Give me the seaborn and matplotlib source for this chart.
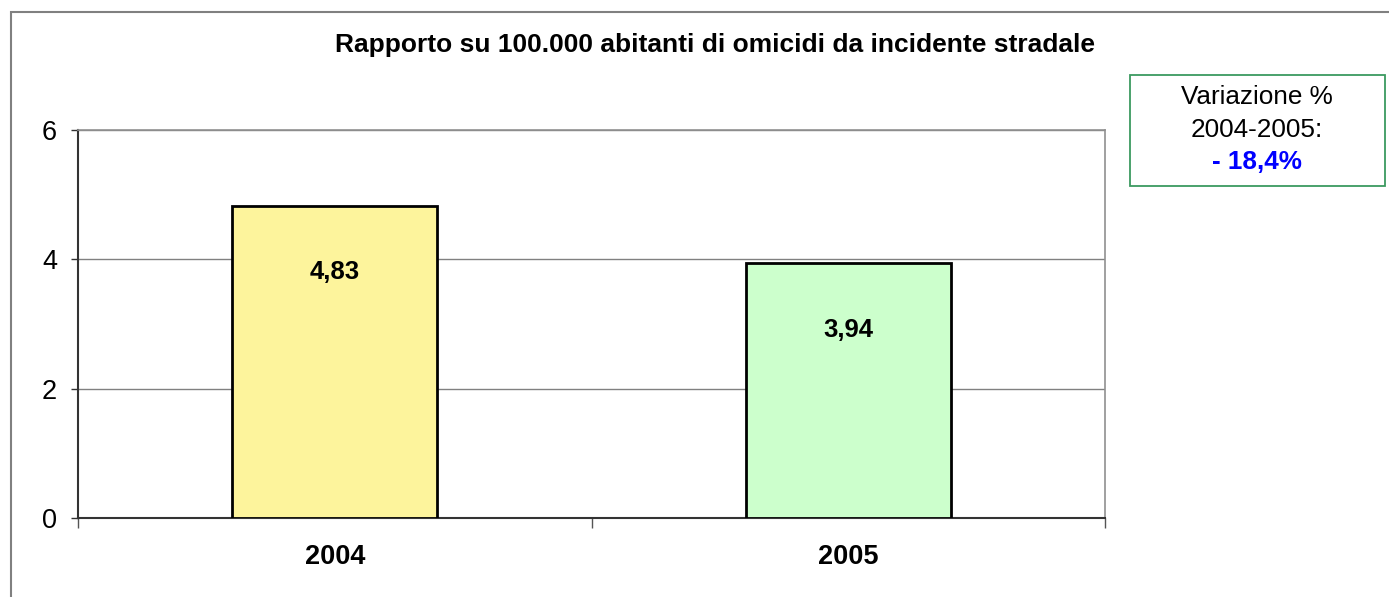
import matplotlib
matplotlib.use("Agg")
import matplotlib.pyplot as plt
import matplotlib.patches as mpatches
import seaborn as sns
import pandas as pd

# Data
anni = ["2004", "2005"]
valori = [4.83, 3.94]
etichette = ["4,83", "3,94"]
colori = ["#fdf49c", "#ccffcc"]
titolo = "Rapporto su 100.000 abitanti di omicidi da incidente stradale"
box_righe = ["Variazione %", "2004-2005:", "- 18,4%"]

sns.set_style("white")
plt.rcParams["font.family"] = ["Liberation Sans", "DejaVu Sans"]
plt.rcParams["text.color"] = "black"
plt.rcParams["xtick.color"] = "black"
plt.rcParams["ytick.color"] = "black"

W, H = 1389, 597
fig = plt.figure(figsize=(W / 100, H / 100), dpi=100)
ax = fig.add_axes([78 / W, 1 - 518 / H, (1105 - 78) / W, (518 - 130) / H])

df = pd.DataFrame({"anno": anni, "valore": valori})
sns.barplot(data=df, x="anno", y="valore", hue="anno", palette=colori, saturation=1,
            width=0.4, edgecolor="black", linewidth=2, legend=False, ax=ax, zorder=3)

# value labels inside the bars
for bar, lab in zip(ax.patches, etichette):
    ax.annotate(lab, (bar.get_x() + bar.get_width() / 2, bar.get_height()),
                xytext=(0, -48), textcoords="offset points",
                ha="center", va="center", fontsize=18.5, fontweight="bold", zorder=4)

ax.set_xlim(-0.5, 1.5)
ax.set_ylim(0, 6)
ax.set_yticks([0, 2, 4, 6])
ax.yaxis.grid(True, color="#808080", linewidth=1)
ax.set_axisbelow(True)
ax.set_xlabel("")
ax.set_ylabel("")

ax.tick_params(axis="y", direction="out", length=5, width=1, color="#333333",
               pad=10, labelsize=19.5, left=True)
ax.tick_params(axis="x", which="major", length=0, pad=19, labelsize=19.5)
for t in ax.get_xticklabels():
    t.set_fontweight("bold")
ax.set_xticks([-0.5, 0.5, 1.5], minor=True)
ax.tick_params(axis="x", which="minor", direction="out", length=7, width=1,
               color="#555555", bottom=True)

for side in ["left", "bottom"]:
    ax.spines[side].set_color("#333333")
    ax.spines[side].set_linewidth(1.5)
for side in ["top", "right"]:
    ax.spines[side].set_color("#909090")
    ax.spines[side].set_linewidth(1.2)

fig.text(715 / W, 1 - 45 / H, titolo, ha="center", va="center",
         fontsize=19, fontweight="bold")

# outer chart border (only left and top are visible)
fig.patches.append(mpatches.Rectangle((11 / W, -0.2), 1.2, 1 - 12 / H + 0.2,
                                      transform=fig.transFigure, fill=False,
                                      edgecolor="#808080", linewidth=1.5))

# variation box
fig.patches.append(mpatches.Rectangle((1130 / W, 1 - 186 / H), 255 / W, 111 / H,
                                      transform=fig.transFigure, fill=False,
                                      edgecolor="#3c9a60", linewidth=1.3))
for y, riga in zip([97, 130, 162], box_righe):
    bold = riga.startswith("-")
    fig.text(1257 / W, 1 - y / H, riga, ha="center", va="center", fontsize=18.8,
             fontweight="bold" if bold else "normal",
             color="#0000ff" if bold else "black")

fig.savefig("out.png", dpi=100)
